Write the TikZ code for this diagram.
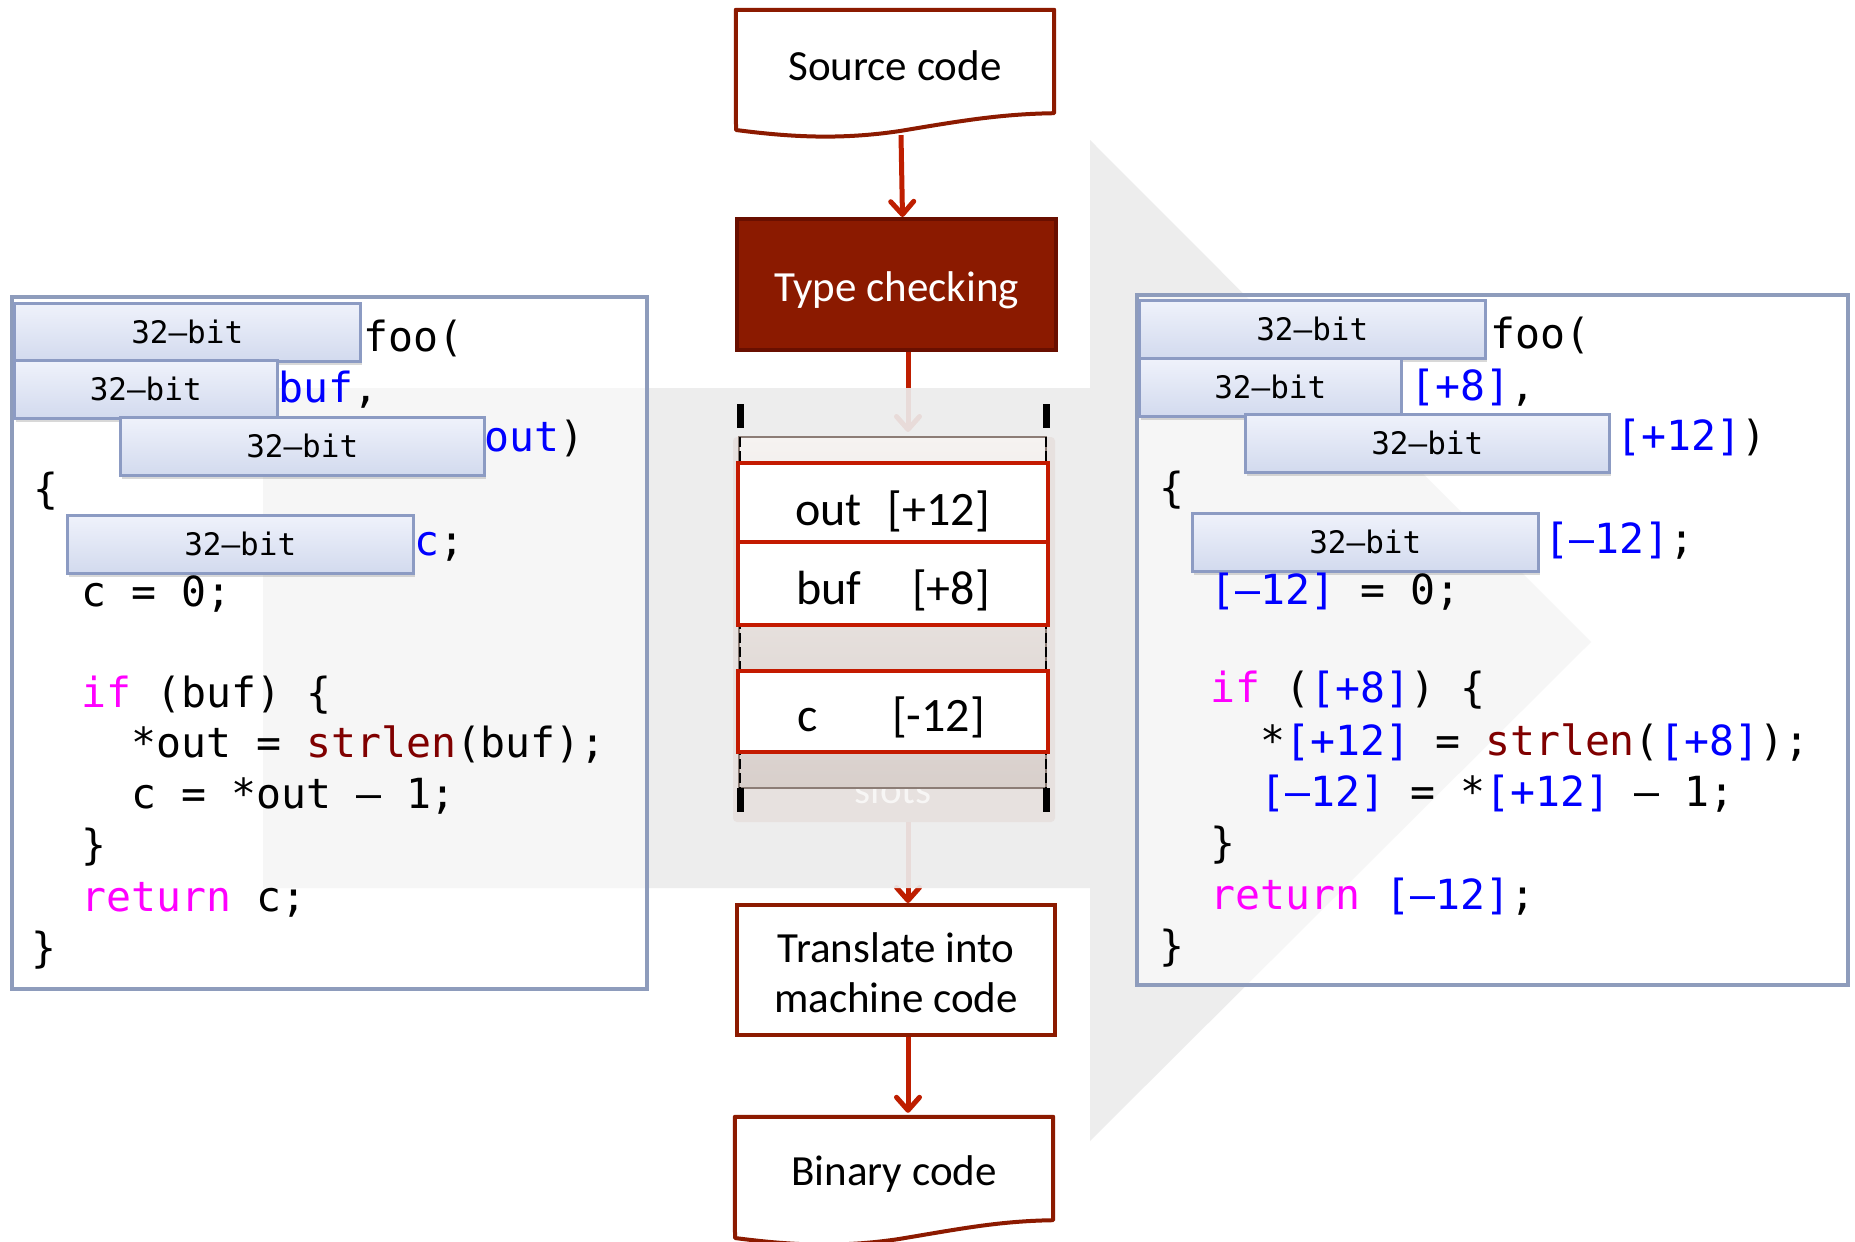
\documentclass[tikz,border=0pt]{standalone}
\usepackage{fontspec}
\setmainfont{Carlito}
\newfontfamily\codefont{DejaVu Sans Mono}
\usetikzlibrary{arrows.meta,shadows}
\definecolor{docred}{RGB}{140,26,0}
\definecolor{connred}{RGB}{190,30,0}
\definecolor{tcfill}{RGB}{139,26,0}
\definecolor{tcborder}{RGB}{105,15,0}
\definecolor{slotred}{RGB}{196,26,0}
\definecolor{frameblue}{RGB}{142,156,188}
\definecolor{bitborder}{RGB}{140,155,195}
\definecolor{bittop}{RGB}{239,242,251}
\definecolor{bitbot}{RGB}{210,218,238}
\definecolor{arrowgray}{RGB}{236,236,236}
\definecolor{colbg}{RGB}{231,225,223}
\definecolor{coltop}{RGB}{246,243,241}
\definecolor{colbot}{RGB}{216,207,203}
\definecolor{colline}{RGB}{140,125,118}
\definecolor{kwmag}{RGB}{255,0,255}
\definecolor{fnred}{RGB}{128,0,0}
\definecolor{idblue}{RGB}{0,0,255}
\newcommand{\kw}[1]{\textcolor{kwmag}{#1}}
\newcommand{\fnc}[1]{\textcolor{fnred}{#1}}
\newcommand{\idb}[1]{\textcolor{idblue}{#1}}
\newcommand{\md}{\textendash}
\begin{document}
\begin{tikzpicture}[x=1pt,y=-1pt,
  flowtext/.style={font=\fontsize{43}{50}\selectfont, align=center, inner sep=0pt, anchor=base},
  shapebox/.style={inner sep=0pt, minimum width=318pt},
  docline/.style={draw=docred, line width=4pt, line join=round},
  procbox/.style={draw=docred, line width=4pt, fill=white, inner sep=0pt, minimum width=318pt, minimum height=130pt},
  tcbox/.style={draw=tcborder, line width=4pt, fill=tcfill, inner sep=0pt, minimum width=319pt, minimum height=131pt},
  conn/.style={draw=connred, line width=5pt, -{Straight Barb[length=13pt,width=23pt,round]}},
  slotbox/.style={draw=slotred, line width=4pt, fill=white, inner sep=0pt, minimum width=310pt},
  slottext/.style={font=\fontsize{48}{52}\selectfont, inner sep=0pt},
  bitbox/.style={draw=bitborder, line width=2.5pt, top color=bittop, bottom color=bitbot, minimum height=58pt, inner sep=0pt, anchor=north west, font=\codefont\fontsize{31}{36}\selectfont, drop shadow={opacity=0.3, shadow xshift=2pt, shadow yshift=-4pt}},
  codeline/.style={font=\codefont\fontsize{41.5}{50}\selectfont, anchor=base west, inner sep=0pt},
  codeframe/.style={draw=frameblue, line width=4pt, fill=white, fill opacity=0.5}
]
\useasboundingbox (0,0) rectangle (1855,1242);
\fill[white] (0,0) rectangle (1855,1242);

% ---------- flow nodes ----------
\node[shapebox, minimum height=103pt] (src) at (895,61.5) {};
\draw[docline] (src.south east) -- (src.north east) -- (src.north west) -- (736,130)
  .. controls (790,137) and (840,140) .. (900,131)
  .. controls (960,121) and (1000,114) .. (src.south east) -- cycle;
\node[flowtext] (srct) at (895,80) {Source code};

\node[tcbox] (tc) at (896.5,284.5) {};
\node[flowtext, text=white] (tct) at (896.5,301) {Type checking};

\node[procbox] (tr) at (896,970) {};
\node[flowtext] (trt1) at (896,962) {Translate into};
\node[flowtext] (trt2) at (896,1012) {machine code};

\node[shapebox, minimum height=103pt] (bin) at (894,1168.5) {};
\draw[docline] (bin.south east) -- (bin.north east) -- (bin.north west) -- (735,1238)
  .. controls (789,1245) and (839,1248) .. (899,1239)
  .. controls (959,1229) and (999,1221) .. (bin.south east) -- cycle;
\node[flowtext] (bint) at (894,1185) {Binary code};

% ---------- connectors ----------
\coordinate (ctop) at (908,432);
\coordinate (cbot) at (908,822);
\draw[conn] ([xshift=6pt,yshift=-22pt]src.south) -- ([xshift=6pt]tc.north);
\draw[conn] (tc.south -| ctop) -- (ctop);
\draw[conn] (cbot) -- (tr.north -| cbot);
\draw[conn] (tr.south -| cbot) -- ([yshift=4pt]bin.north -| cbot);

% ---------- big arrow ----------
\fill[arrowgray, fill opacity=0.92] (263,388) -- (1090,388) -- (1090,140) -- (1591,642)
  -- (1090,1141) -- (1090,888) -- (263,888) -- cycle;

% ---------- stack column ----------
\fill[colbg, rounded corners=4pt] (733,437) rectangle (1055,822);
\node[font=\fontsize{41}{45}\selectfont, text=white, text opacity=0.7, anchor=base, inner sep=0pt] (slots) at (893,803) {slots};
\shade[top color=coltop, bottom color=colbot] (739,437) rectangle (1046,788);
\draw[colline, line width=1.5pt] (739,437) rectangle (1046,788);
\draw[black, line width=2.5pt, dash pattern=on 10pt off 4pt] (740,437) -- (740,788);
\draw[black, line width=2.5pt, dash pattern=on 10pt off 4pt] (1046,437) -- (1046,788);
\draw[black, line width=7pt] (740,404) -- (740,428);
\draw[black, line width=7pt] (1046,404) -- (1046,428);
\draw[black, line width=7pt] (740,788) -- (740,812);
\draw[black, line width=7pt] (1046,788) -- (1046,812);

\node[slotbox, minimum height=79pt] (sout) at (893,502.5) {};
\node[slotbox, minimum height=83pt] (sbuf) at (893,583.5) {};
\node[slotbox, minimum height=81pt] (sc) at (893,711.5) {};
\node[slottext, anchor=base west] (tout) at (795,525) {out};
\node[slottext, anchor=base east] (oout) at (990,525) {[+12]};
\node[slottext, anchor=base west] (tbuf) at (796,604) {buf};
\node[slottext, anchor=base east] (obuf) at (990,604) {[+8]};
\node[slottext, anchor=base west] (tcv) at (797,731) {c};
\node[slottext, anchor=base east] (oc) at (985,731) {[-12]};

% ---------- left code ----------
\draw[codeframe] (12,297) rectangle (647,989);
\node[bitbox, minimum width=346pt] (lb1) at (13,302) {32\md bit};
\node[bitbox, minimum width=263pt] (lb2) at (13,359) {32\md bit};
\node[bitbox, minimum width=364pt] (lb3) at (119,416) {32\md bit};
\node[bitbox, minimum width=346pt] (lb4) at (66,514) {32\md bit};
\node[codeline] (l1) at (363,351) {foo(};
\node[codeline] (l2) at (278,402) {\idb{buf},};
\node[codeline] (l3) at (484,451) {\idb{out})};
\node[codeline] (l4) at (33,503) {\{};
\node[codeline] (l5) at (414,555) {\idb{c};};
\node[codeline] (l6) at (81,606) {c = 0;};
\node[codeline] (l7) at (81,707) {\kw{if} (buf) \{};
\node[codeline] (l8) at (131,757) {*out = \fnc{strlen}(buf);};
\node[codeline] (l9) at (131,808) {c = *out \md{} 1;};
\node[codeline] (l10) at (81,859) {\}};
\node[codeline] (l11) at (81,911) {\kw{return} c;};
\node[codeline] (l12) at (31,962) {\}};

% ---------- right code ----------
\draw[codeframe] (1137,295) rectangle (1848,985);
\node[bitbox, minimum width=346pt] (rb1) at (1138,299) {32\md bit};
\node[bitbox, minimum width=262pt] (rb2) at (1138,357) {32\md bit};
\node[bitbox, minimum width=364pt] (rb3) at (1244,413) {32\md bit};
\node[bitbox, minimum width=346pt] (rb4) at (1191,512) {32\md bit};
\node[codeline] (r1) at (1490,348) {foo(};
\node[codeline] (r2) at (1410,400) {\idb{[+8]},};
\node[codeline] (r3) at (1616,450) {\idb{[+12]})};
\node[codeline] (r4) at (1159,502) {\{};
\node[codeline] (r5) at (1544,553) {\idb{[\md12]};};
\node[codeline] (r6) at (1210,604) {\idb{[\md12]} = 0;};
\node[codeline] (r7) at (1210,702) {\kw{if} (\idb{[+8]}) \{};
\node[codeline] (r8) at (1260,755) {*\idb{[+12]} = \fnc{strlen}(\idb{[+8]});};
\node[codeline] (r9) at (1260,806) {\idb{[\md12]} = *\idb{[+12]} \md{} 1;};
\node[codeline] (r10) at (1210,857) {\}};
\node[codeline] (r11) at (1210,909) {\kw{return} \idb{[\md12]};};
\node[codeline] (r12) at (1159,960) {\}};
\end{tikzpicture}
\end{document}
